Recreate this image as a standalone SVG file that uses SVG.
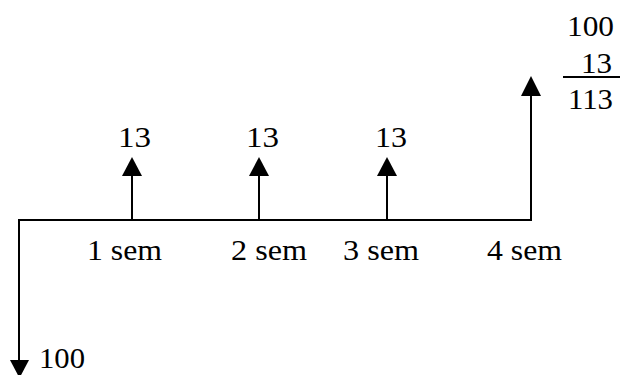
<svg xmlns="http://www.w3.org/2000/svg" width="626" height="375" viewBox="0 0 626 375">
<style>
text{font-family:'Liberation Serif','Times New Roman',Tinos,Times,serif;font-size:29px;fill:#000}
.ln{stroke:#000;stroke-width:2;fill:none}
.ah{fill:#000}
</style>
<rect width="626" height="375" fill="#fff"/>
<g id="connectors">
<path class="ln" d="M19,362 V220 H531 V90"/>
<line class="ln" x1="132" y1="220" x2="132" y2="170"/>
<line class="ln" x1="259" y1="220" x2="259" y2="170"/>
<line class="ln" x1="387" y1="220" x2="387" y2="170"/>
<polygon class="ah" points="132,157 122,176 142,176"/>
<polygon class="ah" points="259,157 249,176 269,176"/>
<polygon class="ah" points="387,157 377,176 397,176"/>
<polygon class="ah" points="531,76 521,96 541,96"/>
<polygon class="ah" points="10,360 29,360 19.5,378"/>
</g>
<g id="outflow"><text x="39" y="368" textLength="46" lengthAdjust="spacingAndGlyphs">100</text></g>
<g id="c1"><text x="118" y="147" textLength="33" lengthAdjust="spacingAndGlyphs">13</text></g>
<g id="c2"><text x="246" y="147" textLength="33" lengthAdjust="spacingAndGlyphs">13</text></g>
<g id="c3"><text x="375" y="147" textLength="32" lengthAdjust="spacingAndGlyphs">13</text></g>
<g id="p1"><text x="87" y="260" textLength="75" lengthAdjust="spacingAndGlyphs">1 sem</text></g>
<g id="p2"><text x="231" y="260" textLength="76" lengthAdjust="spacingAndGlyphs">2 sem</text></g>
<g id="p3"><text x="343" y="260" textLength="76" lengthAdjust="spacingAndGlyphs">3 sem</text></g>
<g id="p4"><text x="487" y="260" textLength="75" lengthAdjust="spacingAndGlyphs">4 sem</text></g>
<g id="sum">
<text x="567" y="36" textLength="47" lengthAdjust="spacingAndGlyphs">100</text>
<text x="581" y="73" textLength="31" lengthAdjust="spacingAndGlyphs">13</text>
<line class="ln" x1="563" y1="77" x2="620" y2="77"/>
<text x="568" y="109" textLength="45" lengthAdjust="spacingAndGlyphs">113</text>
</g>
</svg>
